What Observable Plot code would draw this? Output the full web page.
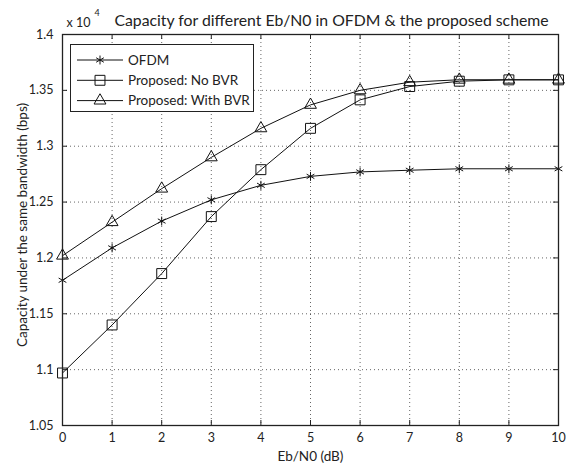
<!DOCTYPE html>
<html><head><meta charset="utf-8">
<script src="https://cdn.jsdelivr.net/npm/d3@7"></script>
<script src="https://cdn.jsdelivr.net/npm/@observablehq/plot@0.6"></script>
<style>
body{margin:0;background:#fff;}
svg{font-family:Lato,sans-serif;}
</style></head><body>
<div id="chart"></div>
<script>
const ebn0 = [0,1,2,3,4,5,6,7,8,9,10];
const ofdm = [1.180,1.209,1.233,1.252,1.265,1.273,1.277,1.2785,1.2798,1.2798,1.2798];
const noBVR = [1.097,1.140,1.186,1.237,1.279,1.316,1.3415,1.3534,1.3582,1.3594,1.3594];
const withBVR = [1.202,1.232,1.262,1.290,1.316,1.337,1.350,1.3573,1.3595,1.3595,1.3595];
const seriesNames = ["OFDM","Proposed: No BVR","Proposed: With BVR"];
const seriesSymbols = ["asterisk","square","triangle"];
const xTicks = [0,1,2,3,4,5,6,7,8,9,10];
const yTicks = [1.05,1.1,1.15,1.2,1.25,1.3,1.35,1.4];
const titleText = "Capacity for different Eb/N0 in OFDM & the proposed scheme";
const xLabel = "Eb/N0 (dB)";
const yLabel = "Capacity under the same bandwidth (bps)";

const allSeries = [ofdm, noBVR, withBVR];
const bySeries = allSeries.map((vals, si) => vals.map((v, i) => ({x: ebn0[i], y: v, s: seriesNames[si]})));

const W = 572, H = 466, mL = 62, mR = 14, mT = 34, mB = 41;
const fh = H - mT - mB, fw = W - mL - mR;
const rSizes = [4.2, 5.6, 4.4];
const gridStyle = {stroke: "#000", strokeOpacity: 0.6, strokeDasharray: "1,3"};

const plot = Plot.plot({
  width: W, height: H,
  marginLeft: mL, marginRight: mR, marginTop: mT, marginBottom: mB,
  style: {fontSize: "12px", fontFamily: "Lato, sans-serif", color: "#222"},
  x: {domain: [0, 10]},
  y: {domain: [1.05, 1.4]},
  marks: [
    Plot.ruleX(xTicks.filter(t => t > 0 && t < 10), {x: d => d, ...gridStyle}),
    Plot.ruleY(yTicks.filter(t => t > 1.05 && t < 1.4), {y: d => d, ...gridStyle}),
    Plot.tickX(xTicks, {x: d => d, insetTop: fh - 5, stroke: "#222"}),
    Plot.tickX(xTicks, {x: d => d, insetBottom: fh - 5, stroke: "#222"}),
    Plot.tickY(yTicks, {y: d => d, insetRight: fw - 5, stroke: "#222"}),
    Plot.tickY(yTicks, {y: d => d, insetLeft: fw - 5, stroke: "#222"}),
    Plot.axisX(xTicks, {tickSize: 0, tickPadding: 8, label: null, fontSize: 12.5}),
    Plot.axisY(yTicks, {tickSize: 0, tickPadding: 9, label: null, tickFormat: d => String(+d.toFixed(2)), fontSize: 12.5}),
    ...bySeries.map(d => Plot.line(d, {x: "x", y: "y", stroke: "#111", strokeWidth: 1})),
    ...bySeries.map((d, i) => Plot.dot(d, {x: "x", y: "y", symbol: seriesSymbols[i], r: rSizes[i], stroke: "#111", fill: "none", strokeWidth: 1})),
    Plot.frame({stroke: "#222", strokeWidth: 1.3}),
    Plot.text([xLabel], {frameAnchor: "bottom", lineAnchor: "middle", dy: 31, fontSize: 13.5, fill: "#222"}),
    Plot.text([yLabel], {frameAnchor: "left", textAnchor: "middle", lineAnchor: "middle", dx: -40, dy: -5, rotate: -90, fontSize: 13.5, fill: "#222"}),
    Plot.text([titleText], {frameAnchor: "top", lineAnchor: "middle", dx: 21, dy: -14, fontSize: 15.8, fill: "#222"}),
    Plot.text(["x 10"], {frameAnchor: "top-left", textAnchor: "start", lineAnchor: "bottom", dx: 4, dy: -8, fontSize: 12.5, fill: "#222"}),
    Plot.text(["4"], {frameAnchor: "top-left", textAnchor: "start", lineAnchor: "bottom", dx: 32, dy: -19, fontSize: 9, fill: "#222"})
  ]
});
document.getElementById("chart").appendChild(plot);

// legend box
const svg = d3.select(plot);
const lg = svg.append("g").attr("text-anchor", "start");
lg.append("rect").attr("x", 70.5).attr("y", 44.5).attr("width", 183).attr("height", 67)
  .attr("fill", "#fff").attr("stroke", "#222").attr("stroke-width", 1);
const d3sym = {asterisk: d3.symbolAsterisk, square: d3.symbolSquare, triangle: d3.symbolTriangle};
seriesNames.forEach((name, i) => {
  const cy = 60 + i * 20.3;
  lg.append("line").attr("x1", 77).attr("x2", 123).attr("y1", cy).attr("y2", cy).attr("stroke", "#111");
  lg.append("path").attr("transform", `translate(100,${cy})`)
    .attr("d", d3.symbol(d3sym[seriesSymbols[i]], Math.PI * rSizes[i] ** 2)())
    .attr("fill", "none").attr("stroke", "#111");
  lg.append("text").attr("x", 128).attr("y", cy).attr("dy", "0.35em")
    .attr("font-size", 13.5).attr("fill", "#222").attr("text-anchor", "start").text(name);
});
</script>
</body></html>
